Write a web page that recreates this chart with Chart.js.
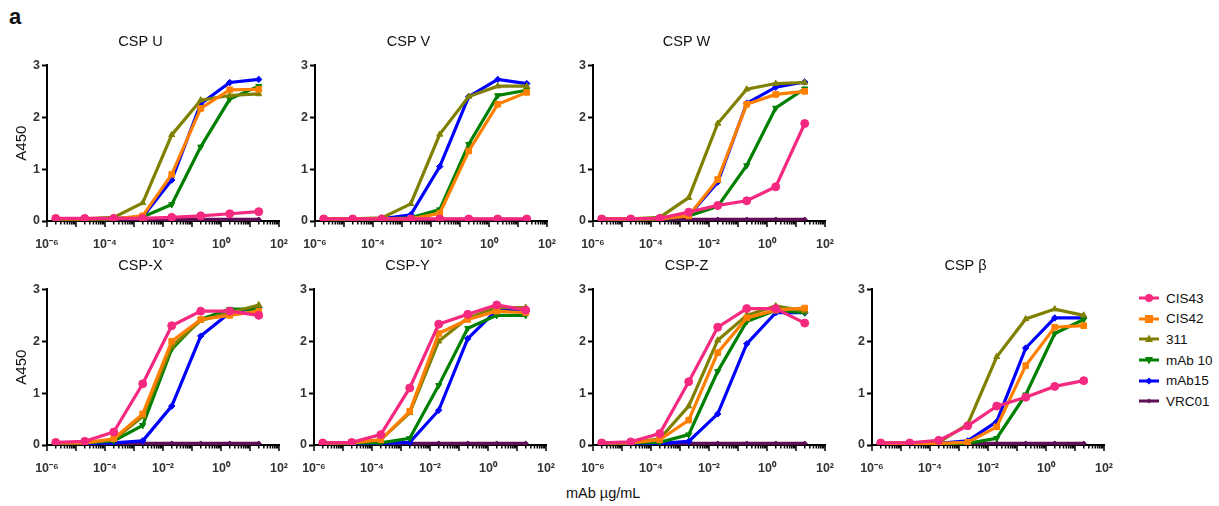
<!DOCTYPE html>
<html>
<head>
<meta charset="utf-8">
<script src="https://cdn.jsdelivr.net/npm/chart.js@4/dist/chart.umd.min.js"></script>
<style>
  body { margin: 0; background: #fff; font-family: "Liberation Sans", Arial, sans-serif; }
  #wrap { position: relative; width: 1219px; height: 506px; overflow: hidden; }
  canvas { position: absolute; }
  .lbl { position: absolute; color: #111; }
  .leg { position: absolute; left: 1138px; font-size: 13.5px; color: #111; }
  .leg div { height: 20.6px; display: flex; align-items: center; }
  .leg svg { margin-right: 6px; }
</style>
</head>
<body>
<div id="wrap">
  <div class="lbl" style="left:9px;top:4px;font-size:22px;font-weight:bold;">a</div>
  <div class="lbl" style="left:566px;top:485px;font-size:14.5px;">mAb µg/mL</div>
  <div class="leg" id="legend" style="top:288px;"></div>
</div>

<script>
// antibody concentrations (µg/mL), 10-fold dilutions
const conc = [2e-6, 2e-5, 2e-4, 2e-3, 2e-2, 0.2, 2, 20];

const seriesNames = ['CIS43', 'CIS42', '311', 'mAb 10', 'mAb15', 'VRC01'];
const seriesColors = ['#F5297F', '#FF8000', '#808000', '#008000', '#0000FF', '#5E0F55'];

// A450 per panel, rows in seriesNames order
const cspU = [
  [0.05, 0.05, 0.05, 0.05, 0.07, 0.10, 0.14, 0.18],
  [0.04, 0.04, 0.04, 0.10, 0.90, 2.17, 2.53, 2.54],
  [0.04, 0.04, 0.07, 0.35, 1.66, 2.33, 2.42, 2.45],
  [0.04, 0.04, 0.04, 0.08, 0.32, 1.43, 2.35, 2.60],
  [0.04, 0.04, 0.04, 0.08, 0.79, 2.26, 2.67, 2.73],
  [0.03, 0.03, 0.03, 0.03, 0.03, 0.03, 0.03, 0.03]
];
const cspV = [
  [0.04, 0.04, 0.04, 0.04, 0.04, 0.04, 0.04, 0.04],
  [0.04, 0.04, 0.04, 0.04, 0.15, 1.35, 2.25, 2.48],
  [0.04, 0.04, 0.06, 0.33, 1.67, 2.40, 2.60, 2.60],
  [0.04, 0.04, 0.04, 0.06, 0.22, 1.48, 2.42, 2.52],
  [0.04, 0.04, 0.04, 0.12, 1.05, 2.40, 2.73, 2.65],
  [0.03, 0.03, 0.03, 0.03, 0.03, 0.03, 0.03, 0.03]
];
const cspW = [
  [0.04, 0.04, 0.05, 0.17, 0.30, 0.39, 0.66, 1.88],
  [0.04, 0.04, 0.04, 0.10, 0.80, 2.25, 2.44, 2.50],
  [0.04, 0.04, 0.07, 0.45, 1.88, 2.54, 2.65, 2.67],
  [0.03, 0.03, 0.04, 0.10, 0.28, 1.07, 2.18, 2.55],
  [0.04, 0.04, 0.04, 0.10, 0.75, 2.27, 2.58, 2.68],
  [0.03, 0.03, 0.03, 0.03, 0.03, 0.03, 0.03, 0.03]
];
const cspX = [
  [0.05, 0.07, 0.25, 1.18, 2.30, 2.58, 2.58, 2.50],
  [0.04, 0.04, 0.12, 0.60, 2.00, 2.42, 2.50, 2.58],
  [0.04, 0.04, 0.10, 0.55, 1.90, 2.40, 2.55, 2.70],
  [0.04, 0.04, 0.08, 0.38, 1.85, 2.42, 2.62, 2.62],
  [0.03, 0.03, 0.04, 0.08, 0.75, 2.10, 2.55, 2.65],
  [0.03, 0.03, 0.03, 0.03, 0.03, 0.03, 0.03, 0.03]
];
const cspY = [
  [0.04, 0.05, 0.20, 1.10, 2.33, 2.52, 2.70, 2.60],
  [0.04, 0.04, 0.10, 0.65, 2.15, 2.42, 2.58, 2.55],
  [0.04, 0.04, 0.10, 0.62, 2.00, 2.45, 2.65, 2.65],
  [0.04, 0.04, 0.04, 0.13, 1.15, 2.25, 2.50, 2.50],
  [0.03, 0.03, 0.03, 0.05, 0.67, 2.05, 2.60, 2.58],
  [0.03, 0.03, 0.03, 0.03, 0.03, 0.03, 0.03, 0.03]
];
const cspZ = [
  [0.04, 0.06, 0.22, 1.22, 2.27, 2.63, 2.63, 2.35],
  [0.04, 0.04, 0.10, 0.48, 1.78, 2.45, 2.60, 2.64],
  [0.04, 0.04, 0.12, 0.75, 2.02, 2.50, 2.68, 2.58],
  [0.04, 0.04, 0.05, 0.20, 1.42, 2.38, 2.60, 2.55],
  [0.03, 0.03, 0.03, 0.07, 0.60, 1.95, 2.55, 2.55],
  [0.03, 0.03, 0.03, 0.03, 0.03, 0.03, 0.03, 0.03]
];
const cspBeta = [
  [0.04, 0.04, 0.09, 0.37, 0.75, 0.92, 1.13, 1.24],
  [0.03, 0.03, 0.03, 0.05, 0.35, 1.53, 2.27, 2.30],
  [0.03, 0.03, 0.05, 0.40, 1.70, 2.43, 2.62, 2.50],
  [0.02, 0.02, 0.02, 0.03, 0.13, 0.97, 2.15, 2.42],
  [0.03, 0.03, 0.03, 0.08, 0.45, 1.87, 2.45, 2.45],
  [0.03, 0.03, 0.03, 0.03, 0.03, 0.03, 0.03, 0.03]
];

const xTickLabels = { '-6': '10⁻⁶', '-4': '10⁻⁴', '-2': '10⁻²', '0': '10⁰', '2': '10²' };
const yTicks = [0, 1, 2, 3];

const pointStyles = ['circle', 'rect', 'triangle', 'triangle', 'rectRot', 'rectRot'];
const pointRot = [0, 0, 0, 180, 0, 0];
const pointSizes = [4, 4, 3.5, 3.5, 3.2, 2.5];

const panels = [
  { title: 'CSP U', data: cspU, left: 47, top: 65, yTitle: true },
  { title: 'CSP V', data: cspV, left: 315, top: 65 },
  { title: 'CSP W', data: cspW, left: 593, top: 65 },
  { title: 'CSP-X', data: cspX, left: 47, top: 289, yTitle: true },
  { title: 'CSP-Y', data: cspY, left: 314, top: 289 },
  { title: 'CSP-Z', data: cspZ, left: 593, top: 289 },
  { title: 'CSP β', data: cspBeta, left: 872, top: 289 }
];

const plotW = 232, plotH = 156, axW = 45, axH = 30, topH = 32;

function isDecade(v) {
  const l = Math.log10(v);
  return Math.abs(l - Math.round(l)) < 1e-9;
}

// minor/major log ticks on the x axis
const logTicks = {
  id: 'logTicks',
  afterDraw(chart) {
    const sc = chart.scales.x;
    const ctx = chart.ctx;
    ctx.save();
    ctx.strokeStyle = '#000';
    ctx.lineWidth = 1.5;
    sc.ticks.forEach(t => {
      const px = sc.getPixelForValue(t.value);
      const len = isDecade(t.value) ? 6 : 3.5;
      ctx.beginPath();
      ctx.moveTo(px, sc.top);
      ctx.lineTo(px, sc.top + len);
      ctx.stroke();
    });
    ctx.restore();
  }
};

const wrap = document.getElementById('wrap');

panels.forEach(p => {
  const cv = document.createElement('canvas');
  const w = plotW + axW * 2, h = topH + plotH + axH;
  cv.width = w; cv.height = h;
  cv.style.width = w + 'px'; cv.style.height = h + 'px';
  cv.style.left = (p.left - axW) + 'px';
  cv.style.top = (p.top - topH) + 'px';
  wrap.appendChild(cv);

  const datasets = seriesNames.map((name, i) => ({
    label: name,
    data: conc.map((c, k) => ({ x: c, y: p.data[i][k] })),
    borderColor: seriesColors[i],
    backgroundColor: seriesColors[i],
    borderWidth: 3.2,
    pointStyle: pointStyles[i],
    rotation: pointRot[i],
    pointRadius: pointSizes[i],
    pointBorderWidth: 1,
    tension: 0
  }));

  new Chart(cv, {
    type: 'line',
    data: { datasets: datasets },
    plugins: [logTicks],
    options: {
      responsive: false,
      animation: false,
      layout: { padding: { left: 0, right: axW, top: 0, bottom: 0 } },
      plugins: {
        legend: { display: false },
        tooltip: { enabled: false },
        title: {
          display: true,
          text: p.title,
          color: '#111',
          font: { family: 'Liberation Sans', size: 14.5, weight: 'normal' },
          padding: { top: 0, bottom: 15 }
        }
      },
      scales: {
        x: {
          type: 'logarithmic',
          min: 1e-6,
          max: 100,
          afterBuildTicks(axis) {
            const vals = [];
            for (let e = -6; e < 2; e++) {
              for (let m = 1; m <= 9; m++) vals.push(m * Math.pow(10, e));
            }
            vals.push(100);
            axis.ticks = vals.map(v => ({ value: v }));
          },
          afterFit(axis) { axis.height = axH; },
          grid: { display: false },
          border: { display: true, color: '#000', width: 2 },
          ticks: {
            autoSkip: false,
            maxRotation: 0,
            padding: 8,
            color: '#333',
            font: { family: 'Liberation Sans', size: 12.5, weight: 'bold' },
            callback(v) {
              if (!isDecade(v)) return '';
              const e = String(Math.round(Math.log10(v)));
              return xTickLabels[e] || '';
            }
          }
        },
        y: {
          min: 0,
          max: 3,
          afterBuildTicks(axis) { axis.ticks = yTicks.map(v => ({ value: v })); },
          afterFit(axis) { axis.width = axW; },
          grid: { drawOnChartArea: false, drawTicks: true, tickLength: 5, tickWidth: 2, tickColor: '#000' },
          border: { display: true, color: '#000', width: 2 },
          title: {
            display: !!p.yTitle,
            text: 'A450',
            color: '#111',
            font: { family: 'Liberation Sans', size: 15 },
            padding: { top: 11, bottom: 0 }
          },
          ticks: {
            padding: 2,
            color: '#333',
            font: { family: 'Liberation Sans', size: 12.5, weight: 'bold' }
          }
        }
      }
    }
  });
});

// legend
const leg = document.getElementById('legend');
const markerSvg = [
  '<circle cx="11" cy="6" r="4"/>',
  '<rect x="7" y="2" width="8" height="8"/>',
  '<polygon points="11,1.5 15,9 7,9"/>',
  '<polygon points="11,10.5 15,3 7,3"/>',
  '<polygon points="11,2.5 14.5,6 11,9.5 7.5,6"/>',
  '<polygon points="11,3.5 13.5,6 11,8.5 8.5,6"/>'
];
seriesNames.forEach((name, i) => {
  const c = seriesColors[i];
  const row = document.createElement('div');
  row.innerHTML = '<svg width="22" height="12" fill="' + c + '"><line x1="1" y1="6" x2="21" y2="6" stroke="' + c +
    '" stroke-width="3"/>' + markerSvg[i] + '</svg><span>' + name + '</span>';
  leg.appendChild(row);
});
</script>
</body>
</html>
